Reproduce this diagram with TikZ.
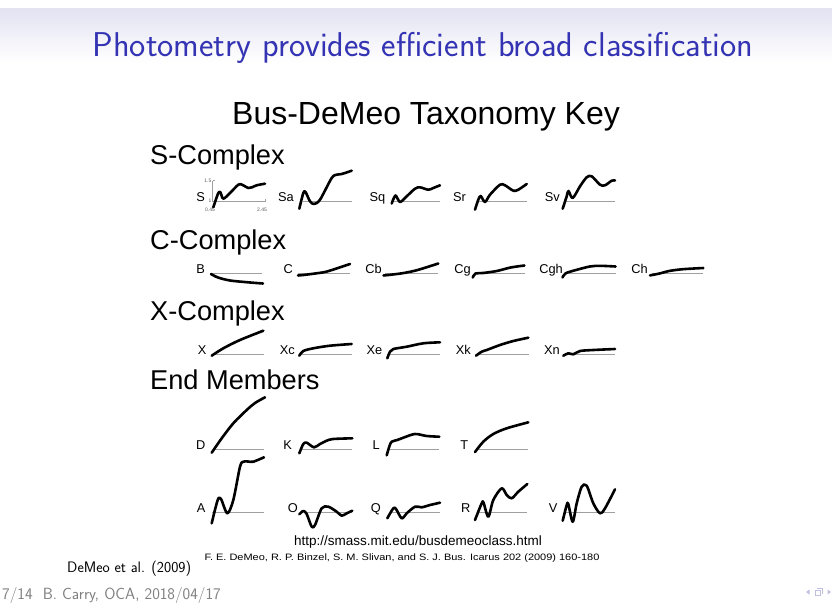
\documentclass[tikz,border=0pt]{standalone}
\usepackage{graphicx}
\usepackage{fontspec}
\setmainfont{Latin Modern Roman}
\setsansfont{Latin Modern Sans}
\newfontfamily\arialf{Liberation Sans}
\definecolor{beamerblue}{RGB}{51,51,179}
\definecolor{hdrtop}{RGB}{226,226,242}
\definecolor{navcol}{RGB}{190,190,225}
\begin{document}
\begin{tikzpicture}[x=1pt,y=-1pt,
  spec/.style={line width=2.6pt, line cap=round, line join=round},
  base/.style={draw=gray!75, line width=0.9pt},
  lab/.style={anchor=base east, inner sep=0pt, font=\arialf\fontsize{12.8}{14}\selectfont},
  hdr/.style={anchor=base west, inner sep=0pt, font=\arialf\fontsize{27.2}{30}\selectfont},
  tinylab/.style={inner sep=0pt, font=\arialf\fontsize{5}{6}\selectfont, text=gray!70!black},
]
\useasboundingbox (0,0) rectangle (832,603);
\fill[white] (0,0) rectangle (832,603);
\shade[top color=hdrtop, bottom color=white] (0,8) rectangle (832,62);
\node[anchor=base, inner sep=0pt, text=beamerblue, font=\sffamily\fontsize{34.4}{38}\selectfont] (title) at (423,56) {Photometry provides efficient broad classification};

\node[anchor=base west, inner sep=0pt, font=\arialf\fontsize{32}{36}\selectfont] (key) at (232,124) {Bus-DeMeo Taxonomy Key};
\node[hdr] (scx) at (150,164) {S-Complex};
\node[hdr] (ccx) at (150,249) {C-Complex};
\node[hdr] (xcx) at (150,320) {X-Complex};
\node[hdr] (emb) at (150,389) {End Members};

% ---------- S row ----------
\draw[base] (212.7,201.5) -- (265,201.5);
\draw[gray!75, line width=0.6pt] (212.7,180.5) -- (212.7,201.5) (212.7,180.5) -- (215,180.5) (265,199) -- (265,201.5);
\node[tinylab, anchor=east] (t15) at (211.5,180.5) {1.5};
\node[tinylab, anchor=east] (t1) at (211.5,201) {1};
\node[tinylab, anchor=north] (t045) at (210,207.5) {0.45};
\node[tinylab, anchor=north] (t245) at (262,207.5) {2.45};
\node[lab] (lS) at (205,201.5) {S};
\draw[spec] plot[smooth, tension=0.5] coordinates {(213.3,207.3) (218.3,193) (220.5,192.5) (223.3,198.7) (230,193) (238.3,184.7) (242,184.7) (248.3,188) (252,187.3) (256.7,185.3) (265,183.7)};

\draw[base] (303,201.5) -- (352,201.5);
\node[lab] (lSa) at (294,201.5) {Sa};
\draw[spec] plot[smooth, tension=0.5] coordinates {(299.3,208.7) (303.3,193) (305.5,192) (310,201.3) (314,204) (320,199.7) (331.7,178) (336.7,174.7) (341.7,174) (351.7,170.7)};

\draw[base] (393,201.5) -- (440,201.5);
\node[lab] (lSq) at (385.5,201.5) {Sq};
\draw[spec] plot[smooth, tension=0.5] coordinates {(391.7,203.5) (395.5,195.5) (400,202) (406.7,196.3) (415,188.7) (420,187.3) (428.3,189.7) (433.3,188) (440,185.3)};

\draw[base] (477,201.5) -- (527,201.5);
\node[lab] (lSr) at (466,201.5) {Sr};
\draw[spec] plot[smooth, tension=0.5] coordinates {(475,209.7) (478.3,199.7) (480.7,196) (485,202) (490,194.7) (500,184.7) (505,185.3) (513.3,190.7) (518.3,189.7) (526.7,184)};

\draw[base] (565,201.5) -- (615,201.5);
\node[lab] (lSv) at (560,201.5) {Sv};
\draw[spec] plot[smooth, tension=0.5] coordinates {(562.7,208.7) (566.7,196.3) (568.5,191) (572.7,198) (580,186.3) (586.7,177.3) (591.7,176.3) (600,184.7) (605,185.3) (611.7,180.7) (615,180.5)};

% ---------- C row ----------
\draw[base] (212,273) -- (262,273);
\node[lab] (lB) at (205,273) {B};
\draw[spec] plot[smooth, tension=0.5] coordinates {(211,274) (218,277.5) (230,280.5) (248,282.3) (263,283.5)};

\draw[base] (298,273) -- (350,273);
\node[lab] (lC) at (293,273) {C};
\draw[spec] plot[smooth, tension=0.5] coordinates {(298,275.5) (305,274.8) (315,273.5) (325,272) (335,269) (350,264)};

\draw[base] (385,273) -- (438,273);
\node[lab] (lCb) at (382,273) {Cb};
\draw[spec] plot[smooth, tension=0.5] coordinates {(383.5,275.5) (393.5,274.4) (403.8,273) (417.6,270) (438.3,263.5)};

\draw[base] (476,273) -- (525,273);
\node[lab] (lCg) at (471,273) {Cg};
\draw[spec] plot[smooth, tension=0.5] coordinates {(472.7,277.5) (475.5,273.5) (483,273) (496.8,271) (510.6,267.5) (524.4,265.5)};

\draw[base] (566,273) -- (616,273);
\node[lab] (lCgh) at (563,273) {Cgh};
\draw[spec] plot[smooth, tension=0.5] coordinates {(562.5,277.5) (565.7,273.3) (576,270) (589.8,266.5) (600,265.8) (615.6,266.5)};

\draw[base] (652,273) -- (703,273);
\node[lab] (lCh) at (648,273) {Ch};
\draw[spec] plot[smooth, tension=0.5] coordinates {(650,275.4) (660.4,273.3) (669,271) (682.8,269.2) (703.4,268)};

% ---------- X row ----------
\draw[base] (212,354) -- (263.5,354);
\node[lab] (lX) at (206.5,354) {X};
\draw[spec] plot[smooth, tension=0.5] coordinates {(211.7,355.7) (223.3,348.3) (240,340) (263.3,330.7)};

\draw[base] (300,354) -- (352,354);
\node[lab] (lXc) at (295,354) {Xc};
\draw[spec] plot[smooth, tension=0.5] coordinates {(299.3,355.7) (303.3,351) (313.3,348.3) (330,345.7) (351.7,344)};

\draw[base] (388,354) -- (440,354);
\node[lab] (lXe) at (382.5,354) {Xe};
\draw[spec] plot[smooth, tension=0.5] coordinates {(387.3,358.3) (390,351.7) (393.3,349) (406.7,346.7) (423.3,343.3) (440,342.3)};

\draw[base] (477,354) -- (528.5,354);
\node[lab] (lXk) at (471,354) {Xk};
\draw[spec] plot[smooth, tension=0.5] coordinates {(476,355.7) (481.7,351.7) (486.7,350) (500,345) (513.3,341) (528.3,337.7)};

\draw[base] (563.5,354) -- (615,354);
\node[lab] (lXn) at (560,354) {Xn};
\draw[spec] plot[smooth, tension=0.5] coordinates {(563.3,355.7) (568.3,353.3) (573.3,354.3) (580,351) (593.3,350) (615,349)};

% ---------- D row ----------
\draw[base] (213,449.3) -- (264,449.3);
\node[lab] (lD) at (205.5,449.3) {D};
\draw[spec] plot[smooth, tension=0.5] coordinates {(211.7,452.7) (221.7,438.3) (233.3,423.3) (246.7,410) (255,403) (265,397.3)};

\draw[base] (301.7,449.3) -- (352.3,449.3);
\node[lab] (lK) at (292,449.3) {K};
\draw[spec] plot[smooth, tension=0.5] coordinates {(299.3,453.3) (303.3,444) (306.7,442.7) (314,447.3) (320,444) (326.7,440.7) (333,439) (352.3,438.3)};

\draw[base] (390,449.3) -- (439.3,449.3);
\node[lab] (lL) at (380,449.3) {L};
\draw[spec] plot[smooth, tension=0.5] coordinates {(386.7,455.3) (389.5,446) (391.7,441.7) (397.3,440) (403.3,437.7) (415,434) (426.7,436) (439.3,436.7)};

\draw[base] (478,449.3) -- (528.3,449.3);
\node[lab] (lT) at (468.5,449.3) {T};
\draw[spec] plot[smooth, tension=0.5] coordinates {(475,452) (483.3,441.7) (493.3,434) (506.7,428.3) (528.3,422.3)};

% ---------- A row ----------
\draw[base] (212,512.3) -- (264,512.3);
\node[lab] (lA) at (205.5,512.3) {A};
\draw[spec] plot[smooth, tension=0.5] coordinates {(211.7,523.3) (217.7,500) (221,499) (227.3,513.3) (233.3,500) (240,466.7) (243.3,461.7) (248,461.5) (253.3,461.7) (264,457.3)};

\draw[base] (306.7,512.3) -- (352.3,512.3);
\node[lab] (lO) at (298,512.3) {O};
\draw[spec] plot[smooth, tension=0.5] coordinates {(299.3,514.3) (303.3,511) (306.7,514) (311.7,526.7) (315,525) (321.7,508.3) (328.3,506.7) (336.7,511.7) (341.7,515.7) (346.7,513.3) (352.3,510.7)};

\draw[base] (390,512.3) -- (440,512.3);
\node[lab] (lQ) at (381,512.3) {Q};
\draw[spec] plot[smooth, tension=0.5] coordinates {(387.3,518.3) (393.3,508.3) (396,509) (401.7,518.3) (406.7,513.3) (415,506.7) (421.7,507.3) (430,505) (440,502.7)};

\draw[base] (476.7,512.3) -- (527.3,512.3);
\node[lab] (lR) at (470.5,512.3) {R};
\draw[spec] plot[smooth, tension=0.5] coordinates {(475,520) (481.7,503.3) (483.5,502.5) (488.3,516.7) (493.3,500) (501.7,488.3) (506.7,495) (511.7,498.3) (518.3,491.7) (527.3,484)};

\draw[base] (565,512.3) -- (615,512.3);
\node[lab] (lV) at (557.5,512.3) {V};
\draw[spec] plot[smooth, tension=0.5] coordinates {(562.7,520.7) (566.7,505) (568.3,504) (572.7,521.7) (576.7,503.3) (581.7,486.7) (586.7,485.7) (593.3,503.3) (600,513.3) (605,508.3) (615,489.3)};

% ---------- references ----------
\node[anchor=base, inner sep=0pt, font=\arialf\fontsize{13.5}{15}\selectfont] (url) at (418,545.5) {http://smass.mit.edu/busdemeoclass.html};
\node[anchor=base, inner sep=0pt, font=\arialf\fontsize{9.3}{10}\selectfont] (cite) at (402,560) {\scalebox{1.18}[1]{F. E. DeMeo, R. P. Binzel, S. M. Slivan, and S. J. Bus. Icarus 202 (2009) 160-180}};
\node[anchor=base west, inner sep=0pt, font=\sffamily\fontsize{15.2}{17}\selectfont] (demeo) at (67,572) {DeMeo et al. (2009)};
\node[anchor=base west, inner sep=0pt, text=gray, font=\sffamily\fontsize{16.2}{18}\selectfont] (foot) at (2,599) {7/14\ \ B. Carry, OCA, 2018/04/17};

% navigation symbols
\fill[navcol] (806,592) -- (809.5,589.5) -- (809.5,594.5) -- cycle;
\draw[navcol, line width=0.8pt] (815,590) rectangle (820,595.5) (817,588) -- (822.5,588) -- (822.5,593.5);
\fill[navcol] (831,592) -- (827.5,589.5) -- (827.5,594.5) -- cycle;
\end{tikzpicture}
\end{document}
